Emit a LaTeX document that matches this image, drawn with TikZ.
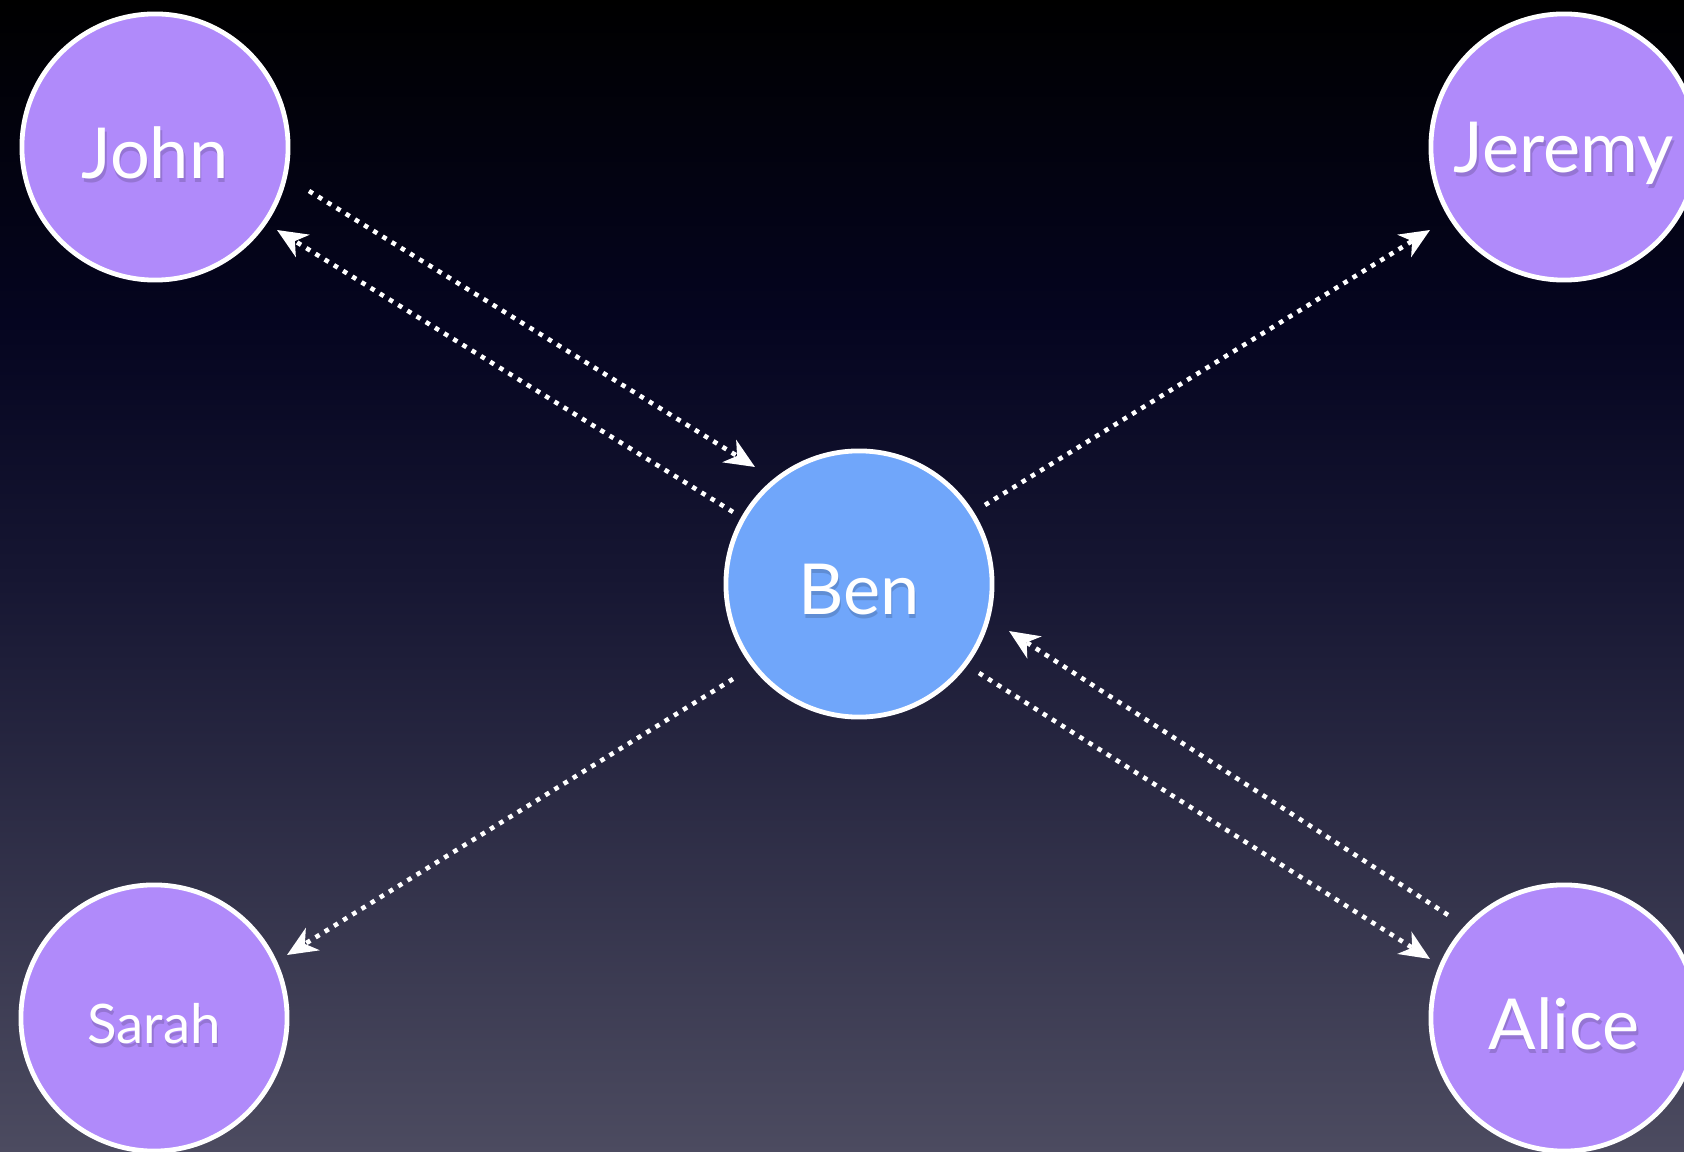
\documentclass[tikz,border=0pt]{standalone}
\usepackage{fontspec}
\setmainfont{Lato}
\usetikzlibrary{arrows.meta,calc}
\definecolor{bgA}{RGB}{0,0,0}
\definecolor{bgB}{RGB}{5,5,32}
\definecolor{bgC}{RGB}{22,22,50}
\definecolor{bgD}{RGB}{76,75,96}
\definecolor{persfill}{RGB}{176,138,250}
\definecolor{benfill}{RGB}{112,166,250}
\pgfdeclareverticalshading{bgshade}{100bp}{color(0bp)=(bgD); color(25bp)=(bgD); color(50bp)=(bgC); color(61bp)=(bgB); color(75bp)=(bgA); color(100bp)=(bgA)}
\tikzset{
  person/.style={circle, draw=white, line width=0.048cm, fill=persfill, minimum size=2.66cm, inner sep=0pt},
  center/.style={person, fill=benfill},
  lbl/.style={text=white},
  shadowlbl/.style={text=black, opacity=0.15},
  link/.style={draw=white, line width=0.046cm, dash pattern=on 0.046cm off 0.062cm,
    -{Stealth[length=0.3cm, width=0.26cm, inset=0.09cm]}}
}
\begin{document}
\begin{tikzpicture}[x=0.01cm, y=-0.01cm]
\useasboundingbox (0,0) rectangle (1684,1152);
\clip (0,0) rectangle (1684,1152);
\shade[shading=bgshade] (0,0) rectangle (1684,1152);

\node[person] (J) at (155,147) {};
\node[person] (Je) at (1564,147) {};
\node[center] (B) at (859,584) {};
\node[person] (S) at (154,1018) {};
\node[person] (A) at (1564,1018) {};

\foreach \n/\t/\s in {J/John/20, Je/Jeremy/20, B/Ben/20, S/Sarah/15.5, A/Alice/20}{
  \node[shadowlbl, font=\fontsize{\s}{\s}\selectfont] (\n shadow) at ($(\n)+(1.5,10)$) {\t};
  \node[lbl, font=\fontsize{\s}{\s}\selectfont] (\n label) at ($(\n)+(0,6)$) {\t};
}

\draw[link] ($(J)+(154,44)$) -- ($(B)+(-104,-117)$);
\draw[link] ($(B)+(-126,-72)$) -- ($(J)+(122,83)$);
\draw[link] ($(B)+(126,-79)$) -- ($(Je)+(-134,83)$);
\draw[link] ($(B)+(-126,95)$) -- ($(S)+(133,-63)$);
\draw[link] ($(A)+(-116,-103)$) -- ($(B)+(150,47)$);
\draw[link] ($(B)+(120,89)$) -- ($(A)+(-134,-59)$);
\end{tikzpicture}
\end{document}
